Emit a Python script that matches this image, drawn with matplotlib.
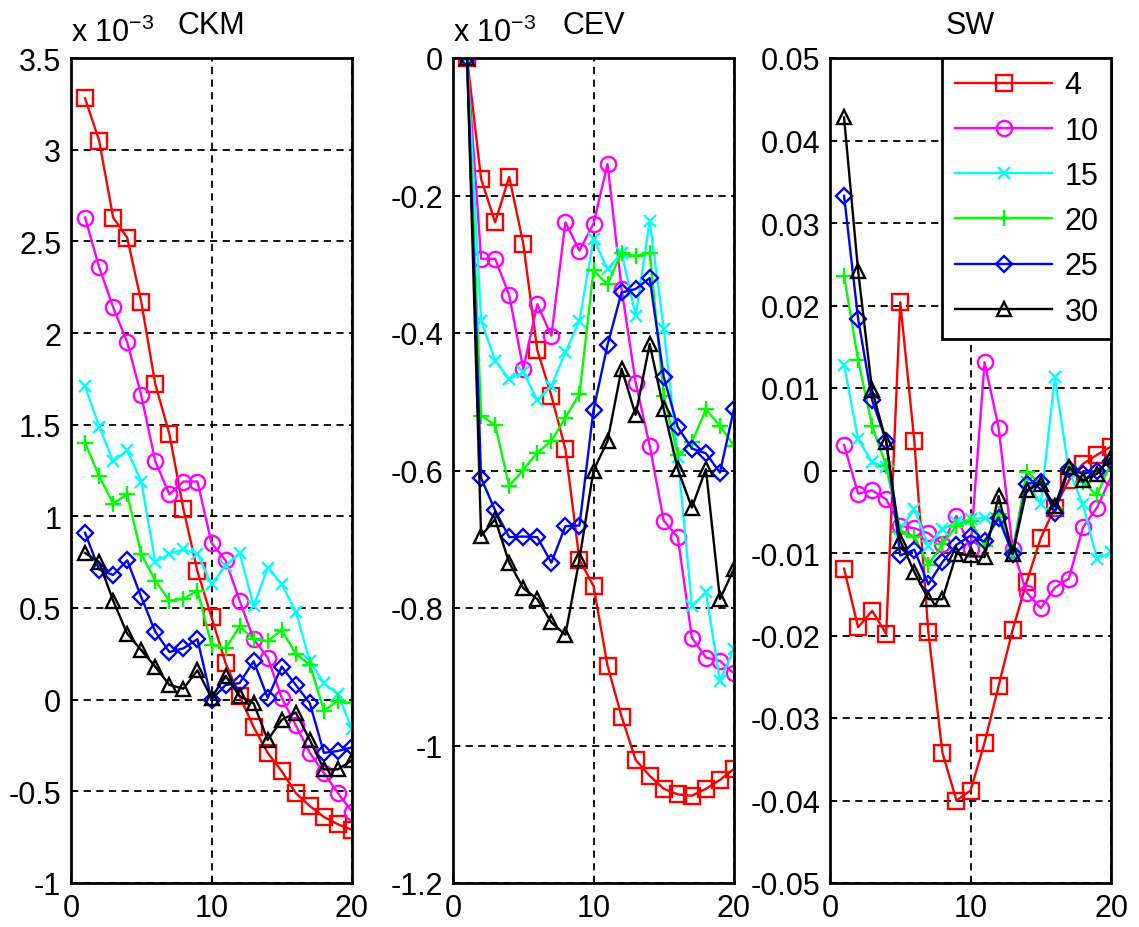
import matplotlib
matplotlib.use("Agg")
import matplotlib.pyplot as plt
from matplotlib.ticker import FormatStrFormatter

plt.rcParams['font.family'] = ['Liberation Sans', 'DejaVu Sans']
plt.rcParams['mathtext.fontset'] = 'custom'
plt.rcParams['mathtext.rm'] = 'Liberation Sans'

x = list(range(1, 21))
labels = ['4', '10', '15', '20', '25', '30']
colors = ['#ff0000', '#ff00ff', '#00ffff', '#00ff00', '#0000ff', '#000000']
markers = ['s', 'o', 'x', '+', 'D', '^']
msizes = [11, 11, 9, 12, 8, 10]

# CKM, in units of 1e-3
ckm_4 = [3.28, 3.05, 2.63, 2.52, 2.17, 1.72, 1.45, 1.04, 0.70, 0.45,
         0.20, 0.02, -0.15, -0.29, -0.39, -0.51, -0.58, -0.64, -0.68, -0.71]
ckm_10 = [2.63, 2.36, 2.14, 1.95, 1.66, 1.30, 1.12, 1.19, 1.19, 0.855,
          0.76, 0.54, 0.33, 0.23, 0.01, -0.14, -0.29, -0.40, -0.51, -0.61]
ckm_15 = [1.71, 1.49, 1.30, 1.36, 1.19, 0.75, 0.795, 0.82, 0.795, 0.63,
          0.73, 0.80, 0.51, 0.72, 0.63, 0.48, 0.21, 0.09, 0.03, -0.16]
ckm_20 = [1.40, 1.22, 1.07, 1.12, 0.795, 0.65, 0.54, 0.55, 0.595, 0.30,
          0.28, 0.40, 0.33, 0.32, 0.38, 0.25, 0.19, -0.06, -0.005, -0.02]
ckm_25 = [0.91, 0.71, 0.68, 0.76, 0.56, 0.37, 0.26, 0.28, 0.33, 0.00,
          0.08, 0.09, 0.21, 0.01, 0.18, 0.08, -0.02, -0.29, -0.28, -0.26]
ckm_30 = [0.80, 0.75, 0.54, 0.36, 0.27, 0.18, 0.08, 0.06, 0.16, 0.01,
          0.13, 0.02, -0.02, -0.22, -0.11, -0.07, -0.22, -0.38, -0.38, -0.33]

# CEV, in units of 1e-3
cev_4 = [0.0, -0.176, -0.239, -0.173, -0.27, -0.425, -0.491, -0.569, -0.730, -0.768,
         -0.884, -0.958, -1.021, -1.044, -1.063, -1.071, -1.073, -1.063, -1.050, -1.034]
cev_10 = [0.0, -0.292, -0.292, -0.345, -0.452, -0.358, -0.404, -0.239, -0.280, -0.241,
          -0.154, -0.336, -0.472, -0.564, -0.673, -0.697, -0.843, -0.872, -0.877, -0.895]
cev_15 = [0.0, -0.382, -0.440, -0.467, -0.457, -0.498, -0.477, -0.428, -0.382, -0.263,
          -0.307, -0.283, -0.375, -0.237, -0.394, -0.58, -0.797, -0.777, -0.906, -0.860]
cev_20 = [0.0, -0.520, -0.534, -0.622, -0.599, -0.574, -0.557, -0.523, -0.489, -0.309,
          -0.329, -0.283, -0.288, -0.283, -0.491, -0.578, -0.559, -0.511, -0.535, -0.564]
cev_25 = [0.0, -0.611, -0.658, -0.697, -0.696, -0.697, -0.734, -0.681, -0.680, -0.512,
          -0.417, -0.341, -0.336, -0.320, -0.464, -0.537, -0.568, -0.575, -0.603, -0.510]
cev_30 = [0.0, -0.695, -0.671, -0.734, -0.771, -0.787, -0.821, -0.839, -0.729, -0.600,
          -0.557, -0.452, -0.519, -0.416, -0.511, -0.598, -0.654, -0.598, -0.787, -0.743]

# SW
sw_4 = [-0.0119, -0.0190, -0.0170, -0.0198, 0.0204, 0.0036, -0.0196, -0.0342, -0.0400, -0.0388,
        -0.0330, -0.0261, -0.0193, -0.0135, -0.0082, -0.0045, -0.0012, 0.0008, 0.0019, 0.0029]
sw_10 = [0.0031, -0.0028, -0.0024, -0.0035, -0.0067, -0.0070, -0.0076, -0.0089, -0.0055, -0.0095,
         0.0131, 0.0052, -0.0095, -0.0148, -0.0167, -0.0142, -0.0131, -0.0069, -0.0045, -0.0008]
sw_15 = [0.0128, 0.0038, 0.0010, 0.0004, -0.0071, -0.0047, -0.0091, -0.0071, -0.0063, -0.0059,
         -0.0057, -0.0060, -0.0100, -0.0014, -0.0040, 0.0113, 0.0000, -0.0041, -0.0107, -0.0099]
sw_20 = [0.0236, 0.0134, 0.0054, 0.0006, -0.0075, -0.0080, -0.0115, -0.0089, -0.0067, -0.0061,
         -0.0091, -0.0053, -0.0097, -0.0002, -0.0016, -0.0045, 0.0004, -0.0014, -0.0030, 0.0010]
sw_25 = [0.0333, 0.0184, 0.0085, 0.0036, -0.0103, -0.0096, -0.0138, -0.0111, -0.0090, -0.0079,
         -0.0086, -0.0057, -0.0101, -0.0016, -0.0014, -0.0051, 0.0002, -0.0004, 0.0000, 0.0012]
sw_30 = [0.0428, 0.0242, 0.0097, 0.0035, -0.0085, -0.0123, -0.0156, -0.0156, -0.0101, -0.0103,
         -0.0105, -0.0031, -0.0101, -0.0024, -0.0016, -0.0043, 0.0004, -0.0012, -0.0004, 0.0016]

ckm = [ckm_4, ckm_10, ckm_15, ckm_20, ckm_25, ckm_30]
cev = [cev_4, cev_10, cev_15, cev_20, cev_25, cev_30]
sw = [sw_4, sw_10, sw_15, sw_20, sw_25, sw_30]

fig = plt.figure(figsize=(11.39, 9.28), dpi=100, facecolor='white')
lefts = [71, 453, 830]
axes = [fig.add_axes([l / 1139, 44 / 928, 281 / 1139, 825 / 928]) for l in lefts]

panels = [
    (ckm, 'CKM', (-1, 3.5), [-1, -0.5, 0, 0.5, 1, 1.5, 2, 2.5, 3, 3.5], True),
    (cev, 'CEV', (-1.2, 0), [-1.2, -1, -0.8, -0.6, -0.4, -0.2, 0], True),
    (sw, 'SW', (-0.05, 0.05), [-0.05, -0.04, -0.03, -0.02, -0.01, 0, 0.01, 0.02, 0.03, 0.04, 0.05], False),
]

fs = 22
for ax, (data, title, ylim, yticks, scaled) in zip(axes, panels):
    for series, c, m, ms, lab in zip(data, colors, markers, msizes, labels):
        ax.plot(x, series, color=c, marker=m, markersize=ms, markerfacecolor='none',
                markeredgecolor=c, markeredgewidth=1.7, linewidth=1.7, label=lab)
    ax.set_xlim(0, 20)
    ax.set_ylim(*ylim)
    ax.set_xticks([0, 10, 20])
    ax.set_yticks(yticks)
    ax.yaxis.set_major_formatter(FormatStrFormatter('%g'))
    ax.grid(True, color='black', linestyle=(0, (4, 3)), linewidth=1.3)
    ax.tick_params(direction='in', length=5, width=1.3, labelsize=fs, pad=7, colors='black')
    for s in ax.spines.values():
        s.set_linewidth(2.0)
        s.set_color('black')
    ax.set_title(title, fontsize=fs, pad=18)
    if scaled:
        ax.text(0, 1.012, r'x 10$^{-3}$', transform=ax.transAxes, fontsize=fs,
                ha='left', va='bottom')

leg = axes[2].legend(loc='upper right', fontsize=fs, numpoints=1, handlelength=3.2,
                     labelspacing=0.5, borderaxespad=0, fancybox=False,
                     framealpha=1, edgecolor='black', borderpad=0.4, handletextpad=0.4)
leg.get_frame().set_linewidth(2.0)

fig.savefig('out.png', dpi=100, facecolor='white')
